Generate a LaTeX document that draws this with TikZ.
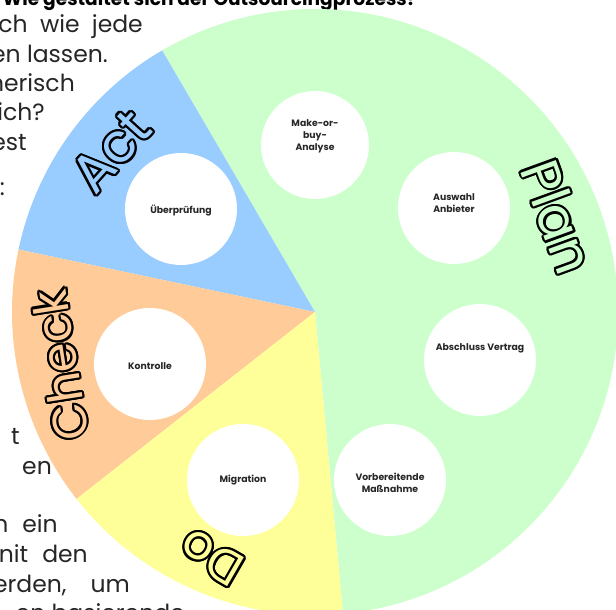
\documentclass[tikz,border=0pt]{standalone}
\usepackage{fontspec}
\setmainfont{Poppins}
\usepackage{contour}
\contourlength{2.1pt}
\definecolor{cplan}{HTML}{CCFFCC}
\definecolor{cact}{HTML}{99CCFF}
\definecolor{ccheck}{HTML}{FFCC99}
\definecolor{cdo}{HTML}{FFFF99}
\begin{document}
\begin{tikzpicture}[x=1pt,y=1pt,
  body/.style={anchor=base east, inner sep=0, font=\fontsize{23.5}{28}\selectfont, text=black!85},
  disc/.style={circle, fill=white, minimum size=112pt, inner sep=0},
  lbl/.style={font=\fontsize{9.3}{12}\selectfont\bfseries, align=center, text=black!85, inner sep=0},
  big/.style={font=\fontsize{46}{50}\selectfont, inner sep=0}]
\useasboundingbox (0,0) rectangle (616,610);
% background document text
\node[anchor=base east, inner sep=0] (title) at (417,604) {\resizebox{414pt}{!}{\bfseries Wie gestaltet sich der Outsourcingprozess?}};
\node[body] (l1) at (143,577) {ch\hspace{6pt} wie\hspace{6pt} jede};
\node[body] (l2) at (108,547) {en lassen.};
\node[body] (l3) at (75,518) {nerisch};
\node[body] (l4) at (45,489) {ich?};
\node[body] (l5) at (27,459) {est};
\node[body] (l6) at (5,414) {:};
\node[body] (l7) at (20,165) {t};
\node[body] (l8) at (52,135) {en};
\node[body] (l9) at (58,77) {n\hspace{14pt}ein};
\node[body] (l10) at (88,47) {nit\hspace{14pt}den};
\node[body] (l11) at (130,17) {erden,\hspace{24pt}um};
\node[body] (l12) at (185,-12) {en basierende};
% pie
\coordinate (O) at (315,298);
\fill[cplan] (O) -- ++(275.3:303pt) arc[start angle=275.3, end angle=480.3, radius=303pt] -- cycle;
\fill[cact] (O) -- ++(120.3:303pt) arc[start angle=120.3, end angle=168.1, radius=303pt] -- cycle;
\fill[ccheck] (O) -- ++(168.1:303pt) arc[start angle=168.1, end angle=218.1, radius=303pt] -- cycle;
\fill[cdo] (O) -- ++(218.1:303pt) arc[start angle=218.1, end angle=275.3, radius=303pt] -- cycle;
% discs
\node[disc, minimum size=108pt, label={[lbl, yshift=9pt]center:Make-or-\\buy-\\Analyse}] (mob) at (315,465) {};
\node[disc, label={[lbl, yshift=5pt]center:Auswahl\\Anbieter}] (aa) at (454,402) {};
\node[disc, label={[lbl, yshift=12pt]center:Abschluss Vertrag}] (av) at (480,250) {};
\node[disc, label={[lbl, yshift=-3pt]center:Vorbereitende\\Maßnahme}] (vm) at (390,130) {};
\node[disc, label={[lbl]center:Migration}] (mig) at (243,130) {};
\node[disc, label={[lbl, yshift=-2pt]center:Kontrolle}] (kon) at (150,246) {};
\node[disc, label={[lbl, yshift=-2pt]center:Überprüfung}] (ueb) at (181,401) {};
% phase labels
\node[big, font=\fontsize{54}{58}\selectfont, rotate=-70] (plan) at (557,393) {\contour{black}{\textcolor{cplan}{Plan}}};
\node[big, font=\fontsize{54}{58}\selectfont, rotate=48] (act) at (112,458) {\contour{black}{\textcolor{cact}{Act}}};
\node[big, font=\fontsize{48}{52}\selectfont, rotate=99] (check) at (61,245) {\contour{black}{\textcolor{ccheck}{Check}}};
\node[big, font=\fontsize{48}{52}\selectfont, rotate=150] (do) at (212,53) {\contour{black}{\textcolor{cdo}{Do}}};
\end{tikzpicture}
\end{document}
